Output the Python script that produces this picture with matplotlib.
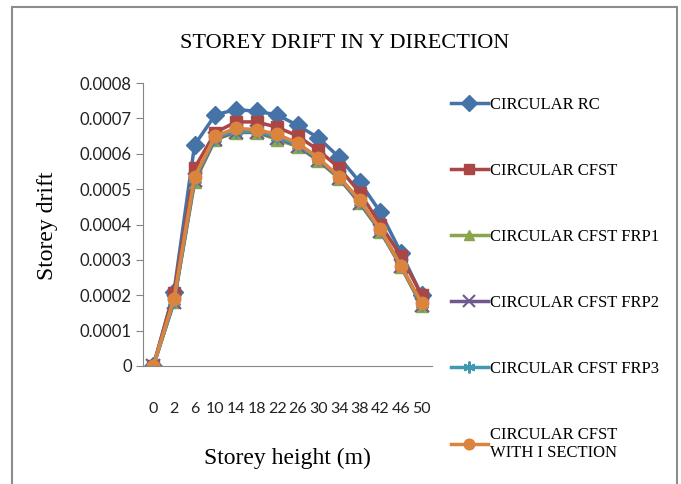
"""Storey drift in Y direction: line chart with markers, Excel-style."""

import matplotlib
matplotlib.use("Agg")
import matplotlib.pyplot as plt
from matplotlib.patches import Rectangle
from matplotlib.ticker import FuncFormatter

heights = ["0", "2", "6", "10", "14", "18", "22", "26", "30", "34", "38", "42", "46", "50"]

rc = [0.0, 0.00021, 0.000625, 0.00071, 0.000725, 0.00072, 0.00071, 0.00068,
      0.000645, 0.00059, 0.00052, 0.000435, 0.00032, 0.0002]
cfst = [0.0, 0.000205, 0.00056, 0.00066, 0.00069, 0.00069, 0.000675, 0.00065,
        0.00061, 0.00056, 0.00049, 0.0004, 0.00031, 0.0002]
frp1 = [0.0, 0.00018, 0.00052, 0.00064, 0.00066, 0.00066, 0.00064, 0.00062,
        0.00058, 0.00053, 0.00046, 0.00038, 0.00028, 0.00017]
frp2 = [0.0, 0.000182, 0.000525, 0.000642, 0.000662, 0.000661, 0.000645, 0.000622,
        0.000582, 0.000532, 0.000462, 0.000382, 0.000282, 0.000172]
frp3 = [0.0, 0.000184, 0.00053, 0.000645, 0.000665, 0.000663, 0.000648, 0.000625,
        0.000585, 0.000535, 0.000465, 0.000385, 0.000284, 0.000174]
isec = [0.0, 0.00019, 0.000535, 0.00065, 0.000672, 0.000668, 0.000655, 0.00063,
        0.000588, 0.000535, 0.000468, 0.000386, 0.000282, 0.000178]

series = [
    ("CIRCULAR RC", rc, "#4572A7", "D"),
    ("CIRCULAR CFST", cfst, "#AA4643", "s"),
    ("CIRCULAR CFST FRP1", frp1, "#89A54E", "^"),
    ("CIRCULAR CFST FRP2", frp2, "#71588F", "x"),
    ("CIRCULAR CFST FRP3", frp3, "#4198AF", (6, 2, 0)),
    ("CIRCULAR CFST\nWITH I SECTION", isec, "#DB843D", "o"),
]

SERIF = "Liberation Serif"
SANS = "Lato"

fig = plt.figure(figsize=(6.81, 4.84), dpi=100)
fig.patches.append(Rectangle((12 / 681, -0.05), 665 / 681, 1.05 - 7 / 484,
                             transform=fig.transFigure, fill=False,
                             edgecolor="#8c8c8c", linewidth=1.5))

ax = fig.add_axes([143 / 681, 118 / 484, 289 / 681, 283 / 484])
x = list(range(len(heights)))
for label, vals, color, marker in series:
    thin = marker in ("x", (6, 2, 0))
    ax.plot(x, vals, color=color, lw=2.5, marker=marker, ms=10 if thin else 9,
            mec=color, mew=1.5 if thin else 1, label=label)

ax.set_xlim(-0.5, len(heights) - 0.5)
ax.set_ylim(0, 0.0008)
ax.set_yticks([i * 0.0001 for i in range(9)])
ax.yaxis.set_major_formatter(FuncFormatter(lambda v, p: "0" if v == 0 else f"{v:.4f}"))
ax.set_xticks(x)
ax.set_xticklabels(heights)
for s in ("top", "right"):
    ax.spines[s].set_visible(False)
for s in ("left", "bottom"):
    ax.spines[s].set_color("#868686")
ax.tick_params(axis="y", length=5, color="#868686", labelsize=12, pad=3)
ax.tick_params(axis="x", length=0, labelsize=11.5, pad=26)
for t in ax.get_xticklabels() + ax.get_yticklabels():
    t.set_fontfamily(SANS)
    t.set_color("#222222")

fig.text(345 / 681, 1 - 44 / 484, "STOREY DRIFT IN Y DIRECTION", family=SERIF,
         fontsize=16, ha="center", va="center")
fig.text(47 / 681, 1 - 226 / 484, "Storey drift", family=SERIF, fontsize=17,
         rotation=90, ha="center", va="center")
fig.text(287 / 681, 1 - 458 / 484, "Storey height (m)", family=SERIF, fontsize=17,
         ha="center", va="center")

leg = fig.legend(loc="upper left", bbox_to_anchor=(436 / 681, 1 - 82 / 484),
                 frameon=False, prop={"family": SERIF, "size": 12},
                 handlelength=2.2, handletextpad=0.15, labelspacing=3.0,
                 markerscale=0.85)

fig.savefig("out.png", dpi=100)
